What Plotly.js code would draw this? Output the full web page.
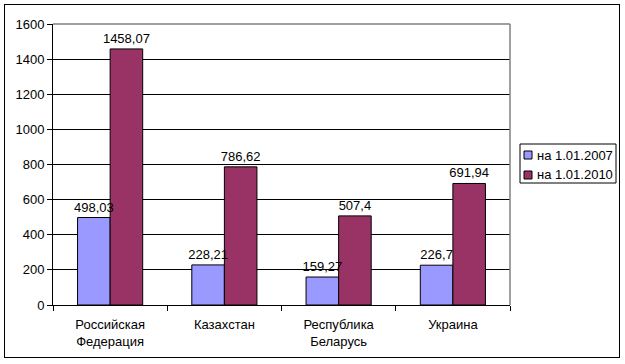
<!DOCTYPE html>
<html>
<head>
<meta charset="utf-8">
<script src="https://cdn.plot.ly/plotly-3.0.1.min.js"></script>
<style>
html,body{margin:0;padding:0;background:#fff;}
#wrap{position:relative;width:625px;height:364px;}
#chart{position:absolute;left:0;top:0;width:625px;height:364px;}
#frame{position:absolute;left:4px;top:4px;width:614px;height:352px;border:1.5px solid #000;pointer-events:none;}
</style>
</head>
<body>
<div id="wrap"><div id="chart"></div><div id="frame"></div></div>
<script>
const categories = ["Российская<br>Федерация", "Казахстан", "Республика<br>Беларусь", "Украина"];
const seriesNames = ["на 1.01.2007", "на 1.01.2010"];
const values2007 = [498.03, 228.21, 159.27, 226.7];
const values2010 = [1458.07, 786.62, 507.4, 691.94];
const yTicks = [0, 200, 400, 600, 800, 1000, 1200, 1400, 1600];
const colors = ["#9999FF", "#993366"];

const font = {family: "Liberation Sans, Arial, sans-serif", size: 13, color: "#000"};

function label(v) { return String(v).replace(".", ","); }

function barTrace(name, vals, color, group) {
  return {
    type: "bar", name: name, x: categories, y: vals, offsetgroup: group,
    marker: {color: color, line: {color: "#000", width: 1}},
    hoverinfo: "skip"
  };
}
// text-only copies drawn last so the labels sit above every bar
function labelTrace(name, vals, group) {
  return {
    type: "bar", name: name + " labels", x: categories, y: vals, offsetgroup: group,
    marker: {color: "rgba(0,0,0,0)", line: {width: 0}},
    text: vals.map(label), textposition: "outside", cliponaxis: false,
    textfont: font, constraintext: "none", hoverinfo: "skip", showlegend: false
  };
}

const data = [
  barTrace(seriesNames[0], values2007, colors[0], "a"),
  barTrace(seriesNames[1], values2010, colors[1], "b"),
  labelTrace(seriesNames[0], values2007, "a"),
  labelTrace(seriesNames[1], values2010, "b")
];

// plot area in pixels: x 53..510, y 24..305
const L = 53, R = 510, T = 24, B = 305;
const px = v => (v - L) / (R - L);
const py = v => (B - v) / (B - T);

const shapes = [
  {type: "line", xref: "paper", yref: "paper", x0: 0, x1: 1, y0: 1, y1: 1,
   line: {color: "#808080", width: 1.5}, layer: "above"},
  {type: "line", xref: "paper", yref: "paper", x0: 1, x1: 1, y0: 0, y1: 1,
   line: {color: "#808080", width: 1.5}, layer: "above"},
  {type: "rect", xref: "paper", yref: "paper", x0: px(520), x1: px(616), y0: py(183), y1: py(144),
   line: {color: "#000", width: 1}, fillcolor: "rgba(0,0,0,0)", layer: "above"}
];
const annotations = [];
const rowY = [155, 175];
seriesNames.forEach((n, i) => {
  shapes.push({type: "rect", xref: "paper", yref: "paper",
    x0: px(524), x1: px(532), y0: py(rowY[i] + 4), y1: py(rowY[i] - 4),
    line: {color: "#000", width: 1}, fillcolor: colors[i], layer: "above"});
  annotations.push({xref: "paper", yref: "paper", x: px(535), y: py(rowY[i]),
    xanchor: "left", yanchor: "middle", text: n, showarrow: false, font: font});
});

const layout = {
  width: 625, height: 364,
  margin: {l: 53, r: 115, t: 24, b: 59},
  paper_bgcolor: "#fff", plot_bgcolor: "#fff",
  font: font,
  barmode: "group", bargap: 0.43, bargroupgap: 0,
  showlegend: false,
  xaxis: {showline: true, linecolor: "#000", linewidth: 1, ticks: "outside",
          tickson: "boundaries", ticklen: 5, tickcolor: "#000", tickfont: font,
          ticklabelstandoff: 7, showgrid: false, fixedrange: true, automargin: false},
  yaxis: {range: [0, 1600], tickvals: yTicks, showline: true, linecolor: "#000",
          linewidth: 1, ticks: "outside", ticklen: 5, tickcolor: "#000",
          gridcolor: "#000", gridwidth: 1, zeroline: false, tickfont: font,
          fixedrange: true, automargin: false},
  shapes: shapes,
  annotations: annotations
};

Plotly.newPlot("chart", data, layout, {staticPlot: true});
</script>
</body>
</html>
